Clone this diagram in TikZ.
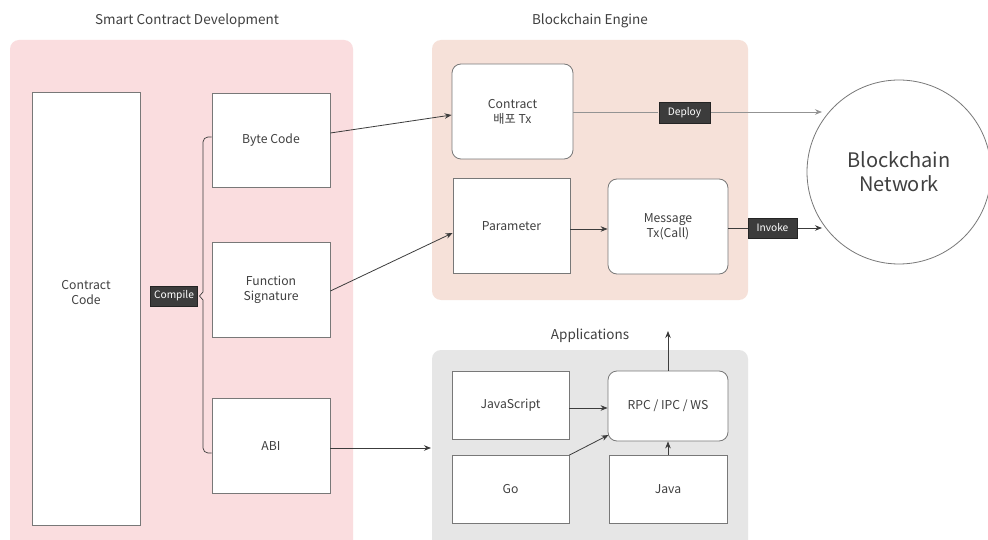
\documentclass[tikz,border=0pt]{standalone}
\usepackage{fontspec}
\setmainfont{Noto Sans CJK KR}
\usetikzlibrary{arrows.meta}
\definecolor{pinkbg}{RGB}{250,221,223}
\definecolor{peachbg}{RGB}{246,225,217}
\definecolor{graybg}{RGB}{230,230,230}
\definecolor{txt}{RGB}{64,64,64}
\definecolor{edge}{RGB}{120,120,120}
\definecolor{darklbl}{RGB}{60,60,60}
\tikzset{
  panel/.style={rounded corners=9pt, draw=none},
  title/.style={font=\fontsize{13.5}{15}\selectfont, text=txt},
  sqbox/.style={draw=edge, line width=0.8pt, fill=white, font=\fontsize{12.2}{15}\selectfont, text=txt, align=center},
  rbox/.style={sqbox, rounded corners=9pt},
  tag/.style={fill=darklbl, text=white, font=\fontsize{10.2}{11}\selectfont, inner sep=0pt, draw=darklbl!60!black, line width=0.4pt},
  conn/.style={draw=darklbl, line width=0.8pt},
  arr/.style={conn, -{Stealth[length=7pt,width=5.5pt]}},
  plain/.style={font=\fontsize{12.2}{15}\selectfont, text=txt, align=center},
}
\begin{document}
\begin{tikzpicture}[x=1pt,y=-1pt]
\useasboundingbox (0,0) rectangle (988,540);
\clip (0,0) rectangle (988,540);
\fill[white] (0,0) rectangle (988,540);
% panels
\fill[pinkbg, panel] (10,40) rectangle (353,560);
\fill[peachbg, panel] (432,40) rectangle (748,300);
\fill[graybg, panel] (432,350) rectangle (748,560);
\node[title] (t1) at (187,21) {Smart Contract Development};
\node[title] (t2) at (590,21) {Blockchain Engine};
\node[title] (t3) at (590,336) {Applications};
% boxes left
\node[sqbox, minimum width=108pt, minimum height=433pt] (cc) at (86,308.5) {};
\node[plain] (cctext) at (86,293) {Contract\\Code};
\node[sqbox, minimum width=118pt, minimum height=94pt] (bc) at (271,140) {Byte Code};
\node[sqbox, minimum width=118pt, minimum height=95pt] (fs) at (271,290) {Function\\Signature};
\node[sqbox, minimum width=118pt, minimum height=95pt] (abi) at (271,446) {ABI};
% brace
\draw[conn, line width=0.7pt] (bc.west |- 0,137) -- (208,137) arc[start angle=90, end angle=180, radius=5pt] -- (203,292) -- (199.5,296) -- (203,300) -- (203,448) arc[start angle=180, end angle=270, radius=5pt] -- (abi.west |- 0,453);
\node[tag, minimum width=47pt, minimum height=20pt] (comp) at (174,296) {Compile};
% engine
\node[rbox, minimum width=121pt, minimum height=95pt] (ctx) at (512.5,111.5) {Contract\\배포 Tx};
\node[sqbox, minimum width=117pt, minimum height=95pt] (par) at (511.5,226) {Parameter};
\node[rbox, minimum width=120pt, minimum height=95pt] (msg) at (668,226.5) {Message\\Tx(Call)};
% network
\node[circle, draw=edge, line width=0.8pt, fill=white, minimum size=184pt, inner sep=0pt, font=\fontsize{20}{24}\selectfont, text=txt, align=center] (net) at (899,172) {Blockchain\\Network};
% applications
\node[sqbox, minimum width=117pt, minimum height=68pt] (js) at (510.5,405) {JavaScript};
\node[sqbox, minimum width=117pt, minimum height=68pt] (go) at (510.5,489.5) {Go};
\node[rbox, minimum width=120pt, minimum height=70pt] (rpc) at (668,406) {RPC / IPC / WS};
\node[sqbox, minimum width=118pt, minimum height=68pt] (java) at (668,489.5) {Java};
\coordinate (appin) at (431,448);
\coordinate (up) at (668,331);
% connectors
\draw[arr] (bc.east |- 0,133) -- (ctx.west |- 0,115);
\draw[arr] (fs.east |- 0,291) -- (par.west |- 0,233);
\draw[arr] (par.east |- 0,229) -- (msg.west |- 0,229);
\draw[arr] (abi.east |- 0,448) -- (appin);
\draw[conn, draw=edge!80] (ctx.east |- 0,112) -- (658,112);
\draw[arr, draw=edge!80] (710,112) -- (822,112);
\node[tag, minimum width=51pt, minimum height=21pt] (dep) at (684.5,113) {Deploy};
\draw[conn] (msg.east |- 0,228) -- (748,228);
\draw[arr] (797,228) -- (822,228);
\node[tag, minimum width=49pt, minimum height=20pt] (inv) at (772.5,228) {Invoke};
\draw[arr] (js.east |- 0,408) -- (rpc.west |- 0,408);
\draw[arr] (go.north east) -- (608.5,435);
\draw[arr] (java.north) -- (rpc.south);
\draw[arr] (rpc.north) -- (up);
\end{tikzpicture}
\end{document}
